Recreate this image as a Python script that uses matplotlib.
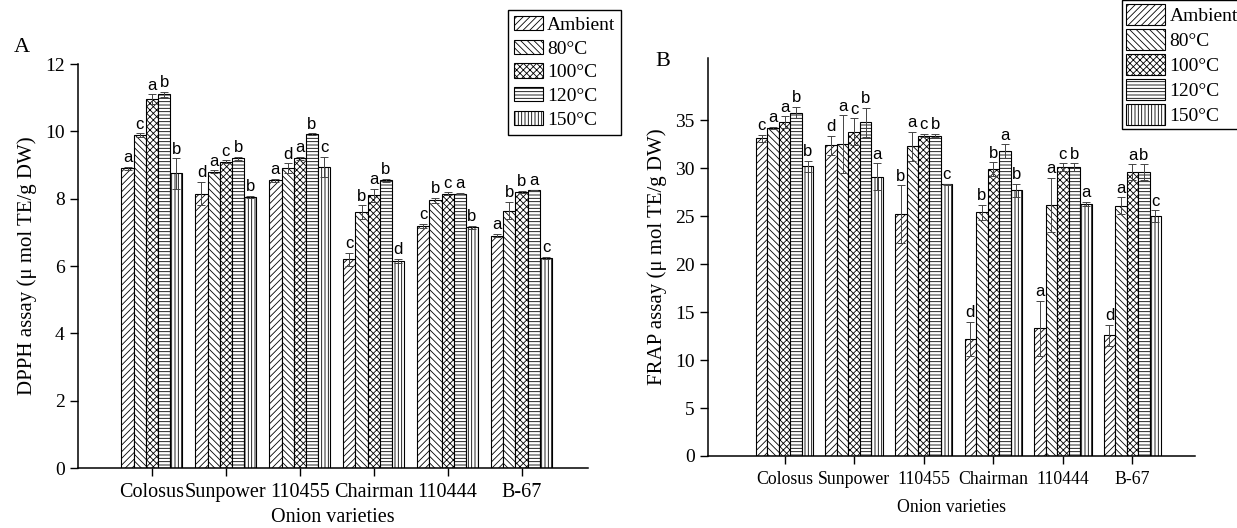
#!/usr/bin/env python3
import numpy as np
import matplotlib
matplotlib.use("Agg")
import matplotlib.pyplot as plt

# ---------- DATA ----------
VARIETIES = ["Colosus", "Sunpower", "110455", "Chairman", "110444", "B-67"]
TREATMENTS = ["Ambient", "80°C", "100°C", "120°C", "150°C"]

# DPPH assay (umol TE/g DW), one list per treatment, in variety order
DPPH_AMBIENT = [8.90, 8.15, 8.55, 6.20, 7.20, 6.90]
DPPH_80 = [9.88, 8.80, 8.90, 7.60, 7.95, 7.65]
DPPH_100 = [10.95, 9.10, 9.20, 8.10, 8.15, 8.20]
DPPH_120 = [11.10, 9.20, 9.92, 8.55, 8.15, 8.25]
DPPH_150 = [8.75, 8.05, 8.95, 6.15, 7.15, 6.25]

DPPH_ERR_AMBIENT = [0.04, 0.35, 0.04, 0.20, 0.06, 0.05]
DPPH_ERR_80 = [0.06, 0.04, 0.15, 0.20, 0.08, 0.25]
DPPH_ERR_100 = [0.15, 0.04, 0.04, 0.20, 0.04, 0.03]
DPPH_ERR_120 = [0.08, 0.04, 0.02, 0.05, 0.02, 0.02]
DPPH_ERR_150 = [0.45, 0.04, 0.30, 0.06, 0.04, 0.03]

DPPH_LETTERS_AMBIENT = ["a", "d", "a", "c", "c", "a"]
DPPH_LETTERS_80 = ["c", "a", "d", "b", "b", "b"]
DPPH_LETTERS_100 = ["a", "c", "a", "a", "c", "b"]
DPPH_LETTERS_120 = ["b", "b", "b", "b", "a", "a"]
DPPH_LETTERS_150 = ["b", "b", "c", "d", "b", "c"]

# FRAP assay (umol TE/g DW)
FRAP_AMBIENT = [33.1, 32.4, 25.2, 12.2, 13.3, 12.6]
FRAP_80 = [34.2, 32.5, 32.3, 25.4, 26.2, 26.1]
FRAP_100 = [34.8, 33.8, 33.4, 29.9, 30.1, 29.6]
FRAP_120 = [35.8, 34.8, 33.4, 31.8, 30.1, 29.6]
FRAP_150 = [30.2, 29.1, 28.3, 27.7, 26.3, 25.0]

FRAP_ERR_AMBIENT = [0.4, 1.0, 3.0, 1.8, 2.9, 1.1]
FRAP_ERR_80 = [0.1, 3.0, 1.5, 0.8, 2.8, 0.9]
FRAP_ERR_100 = [0.6, 1.4, 0.2, 0.7, 0.4, 0.8]
FRAP_ERR_120 = [0.6, 1.5, 0.2, 0.7, 0.4, 0.8]
FRAP_ERR_150 = [0.6, 1.4, 0.1, 0.7, 0.2, 0.6]

FRAP_LETTERS_AMBIENT = ["c", "d", "b", "d", "a", "d"]
FRAP_LETTERS_80 = ["a", "a", "a", "b", "a", "a"]
FRAP_LETTERS_100 = ["a", "c", "c", "b", "c", "a"]
FRAP_LETTERS_120 = ["b", "b", "b", "a", "b", "b"]
FRAP_LETTERS_150 = ["b", "a", "c", "b", "a", "c"]

# ---------- STYLE ----------
HATCHES = ["/////", "\\\\\\\\\\", "xxxxx", "-----", "|||||"]
BAR_W = 0.165
SERIF = "Liberation Serif"
SANS = "Liberation Sans"

plt.rcParams["hatch.linewidth"] = 0.6
plt.rcParams["font.family"] = SERIF


def draw_panel(ax, values, errors, letters, xlim, yticks, ylabel, letter_pad, fs):
    x = np.arange(1, len(VARIETIES) + 1)
    handles = []
    for i, (vals, errs, lets) in enumerate(zip(values, errors, letters)):
        xs = x + (i - 2) * BAR_W
        b = ax.bar(xs, vals, BAR_W, color="white", edgecolor="black",
                   linewidth=0.8, hatch=HATCHES[i], label=TREATMENTS[i])
        ax.errorbar(xs, vals, yerr=errs, fmt="none", ecolor="#444444",
                    elinewidth=0.7, capsize=3, capthick=0.7)
        for xx, v, e, t in zip(xs, vals, errs, lets):
            ax.text(xx, v + e + letter_pad, t, ha="center", va="bottom",
                    fontsize=12, family=SANS)
        handles.append(b)

    ax.set_xlim(*xlim)
    ax.set_xticks(x)
    ax.set_xticklabels(VARIETIES, fontsize=fs)
    ax.set_yticks(yticks)
    ax.tick_params(axis="y", labelsize=14, direction="out", length=6, width=1)
    ax.tick_params(axis="x", direction="out", length=6, width=1, pad=5)
    ax.spines["top"].set_visible(False)
    ax.spines["right"].set_visible(False)
    ax.spines["left"].set_linewidth(1.1)
    ax.spines["bottom"].set_linewidth(1.1)
    ax.set_xlabel("Onion varieties", fontsize=fs, labelpad=8)
    ax.set_ylabel(ylabel, fontsize=15, labelpad=6)
    return handles


if __name__ == "__main__":
    fig = plt.figure(figsize=(12.37, 5.28), dpi=100)

    # panel A
    axA = fig.add_axes([0.0631, 0.1136, 0.4123, 0.765])
    hA = draw_panel(
        axA,
        [DPPH_AMBIENT, DPPH_80, DPPH_100, DPPH_120, DPPH_150],
        [DPPH_ERR_AMBIENT, DPPH_ERR_80, DPPH_ERR_100, DPPH_ERR_120, DPPH_ERR_150],
        [DPPH_LETTERS_AMBIENT, DPPH_LETTERS_80, DPPH_LETTERS_100,
         DPPH_LETTERS_120, DPPH_LETTERS_150],
        (0.0, 6.9), np.arange(0, 13, 2),
        "DPPH assay (μ mol TE/g DW)", 0.05, 14.5)
    axA.xaxis.labelpad = 4
    axA.set_ylim(0, 12)
    fig.text(22 / 1237, 1 - 48 / 528, "A", fontsize=16, ha="center", va="center")
    axA.legend(handles=hA, loc="upper left", bbox_to_anchor=(0.4107, 0.981),
               bbox_transform=fig.transFigure, fancybox=False, framealpha=1,
               edgecolor="black", fontsize=14, handlelength=1.5,
               handleheight=0.75, labelspacing=0.3, handletextpad=0.2,
               borderpad=0.3, borderaxespad=0)

    # panel B
    axB = fig.add_axes([0.5724, 0.1364, 0.3937, 0.754])
    hB = draw_panel(
        axB,
        [FRAP_AMBIENT, FRAP_80, FRAP_100, FRAP_120, FRAP_150],
        [FRAP_ERR_AMBIENT, FRAP_ERR_80, FRAP_ERR_100, FRAP_ERR_120, FRAP_ERR_150],
        [FRAP_LETTERS_AMBIENT, FRAP_LETTERS_80, FRAP_LETTERS_100,
         FRAP_LETTERS_120, FRAP_LETTERS_150],
        (-0.1, 6.9), np.arange(0, 36, 5),
        "FRAP assay (μ mol TE/g DW)", 0.15, 12.8)
    axB.set_ylim(0, 41.5)
    fig.text(663 / 1237, 1 - 62 / 528, "B", fontsize=16, ha="center", va="center")
    axB.legend(handles=hB, loc="upper left", bbox_to_anchor=(0.907, 1.0),
               bbox_transform=fig.transFigure, fancybox=False, framealpha=1,
               edgecolor="black", fontsize=14, handlelength=2.0,
               handleheight=1.3, labelspacing=0.2, handletextpad=0.25,
               borderpad=0.2, borderaxespad=0)

    fig.savefig("out.png", dpi=100)
    print("Plot saved: out.png")
